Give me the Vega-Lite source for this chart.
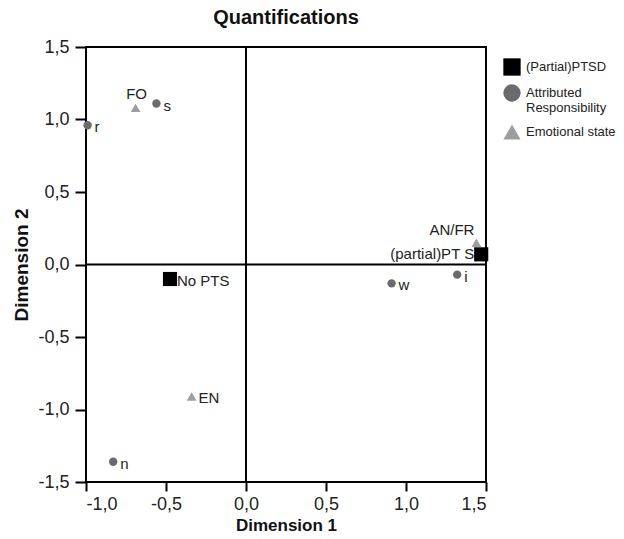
{
  "$schema": "https://vega.github.io/schema/vega-lite/v6.json",
  "autosize": "none",
  "width": 400,
  "height": 435,
  "padding": {"left": 86, "top": 47, "right": 138, "bottom": 57},
  "background": "white",
  "title": {"text": "Quantifications", "font": "Liberation Sans", "fontSize": 20, "fontWeight": "bold", "color": "#111", "offset": 10, "anchor": "middle"},
  "config": {
    "view": {"stroke": "black", "strokeWidth": 2},
    "font": "Liberation Sans",
    "legend": {"title": null, "orient": "none", "legendX": 417, "legendY": 11, "padding": 0, "symbolSize": 300, "labelFontSize": 13, "labelColor": "#222", "rowPadding": 8, "labelOffset": 5, "labelLimit": 200, "symbolStrokeWidth": 0}
  },
  "data": {
    "values": [
      {"label": "r", "group": "Attributed Responsibility", "d1": -0.99, "d2": 0.96},
      {"label": "s", "group": "Attributed Responsibility", "d1": -0.56, "d2": 1.11},
      {"label": "n", "group": "Attributed Responsibility", "d1": -0.83, "d2": -1.36},
      {"label": "w", "group": "Attributed Responsibility", "d1": 0.91, "d2": -0.13},
      {"label": "i", "group": "Attributed Responsibility", "d1": 1.32, "d2": -0.07},
      {"label": "FO", "group": "Emotional state", "d1": -0.69, "d2": 1.08},
      {"label": "EN", "group": "Emotional state", "d1": -0.34, "d2": -0.91},
      {"label": "AN/FR", "group": "Emotional state", "d1": 1.44, "d2": 0.15},
      {"label": "No PTS", "group": "(Partial)PTSD", "d1": -0.475, "d2": -0.1},
      {"label": "(partial)PT  S", "group": "(Partial)PTSD", "d1": 1.47, "d2": 0.07}
    ]
  },
  "encoding": {
    "x": {"field": "d1", "type": "quantitative", "scale": {"domain": [-1, 1.5], "nice": false, "zero": false},
      "axis": {"title": "Dimension 1", "values": [-1, -0.5, 0, 0.5, 1, 1.5], "grid": false, "domain": false, "tickColor": "black", "tickWidth": 2, "tickSize": 9, "labelFontSize": 18, "labelColor": "#222", "labelPadding": 4, "titleFontSize": 17, "titleFontWeight": "bold", "titleColor": "#111", "titlePadding": 4,
        "labelExpr": "replace(replace(format(datum.value, '.1f'), '.', ','), '\u2212', '-')"}},
    "y": {"field": "d2", "type": "quantitative", "scale": {"domain": [-1.5, 1.5], "nice": false, "zero": false},
      "axis": {"title": "Dimension 2", "values": [-1.5, -1, -0.5, 0, 0.5, 1, 1.5], "grid": false, "domain": false, "tickColor": "black", "tickWidth": 2, "tickSize": 11, "labelFontSize": 18, "labelColor": "#222", "labelPadding": 6, "titleFontSize": 19, "titleFontWeight": "bold", "titleColor": "#111", "titlePadding": 6,
        "labelExpr": "replace(replace(format(datum.value, '.1f'), '.', ','), '\u2212', '-')"}},
    "shape": {"field": "group", "type": "nominal", "scale": {"domain": ["(Partial)PTSD", "Attributed Responsibility", "Emotional state"], "range": ["square", "circle", "triangle-up"]},
      "legend": {"labelExpr": "datum.label == 'Attributed Responsibility' ? ['Attributed', 'Responsibility'] : datum.label"}},
    "color": {"field": "group", "type": "nominal", "scale": {"domain": ["(Partial)PTSD", "Attributed Responsibility", "Emotional state"], "range": ["#000000", "#6b6b6b", "#9e9e9e"]},
      "legend": {"labelExpr": "datum.label == 'Attributed Responsibility' ? ['Attributed', 'Responsibility'] : datum.label"}}
  },
  "layer": [
    {"mark": {"type": "rule", "color": "black", "strokeWidth": 2}, "data": {"values": [{"v": 0}]}, "encoding": {"x": {"field": "v", "type": "quantitative"}, "y": null, "shape": null, "color": null}},
    {"mark": {"type": "rule", "color": "black", "strokeWidth": 2}, "data": {"values": [{"v": 0}]}, "encoding": {"y": {"field": "v", "type": "quantitative"}, "x": null, "shape": null, "color": null}},
    {"transform": [{"filter": "datum.group == 'Attributed Responsibility'"}],
     "mark": {"type": "point", "filled": true, "opacity": 1, "size": 70}},
    {"transform": [{"filter": "datum.group == 'Emotional state'"}],
     "mark": {"type": "point", "filled": true, "opacity": 1, "size": 95}},
    {"transform": [{"filter": "datum.group == '(Partial)PTSD'"}],
     "mark": {"type": "point", "filled": true, "opacity": 1, "size": 200}},
    {"transform": [{"filter": "indexof(['r','s','n','w','i','EN','No PTS'], datum.label) >= 0"}],
     "mark": {"type": "text", "align": "left", "baseline": "middle", "dx": 7, "dy": 2, "fontSize": 15, "color": "#222"},
     "encoding": {"text": {"field": "label"}, "shape": null, "color": null}},
    {"transform": [{"filter": "datum.label == 'FO'"}],
     "mark": {"type": "text", "align": "center", "baseline": "bottom", "dx": 1, "dy": -6, "fontSize": 15, "color": "#222"},
     "encoding": {"text": {"field": "label"}, "shape": null, "color": null}},
    {"transform": [{"filter": "datum.label == 'AN/FR'"}],
     "mark": {"type": "text", "align": "right", "baseline": "bottom", "dx": -2, "dy": -5, "fontSize": 15, "color": "#222"},
     "encoding": {"text": {"field": "label"}, "shape": null, "color": null}},
    {"transform": [{"filter": "datum.label == '(partial)PT  S'"}],
     "mark": {"type": "text", "align": "right", "baseline": "middle", "dx": -7, "dy": 0, "fontSize": 15, "color": "#222"},
     "encoding": {"text": {"field": "label"}, "shape": null, "color": null}}
  ]
}
